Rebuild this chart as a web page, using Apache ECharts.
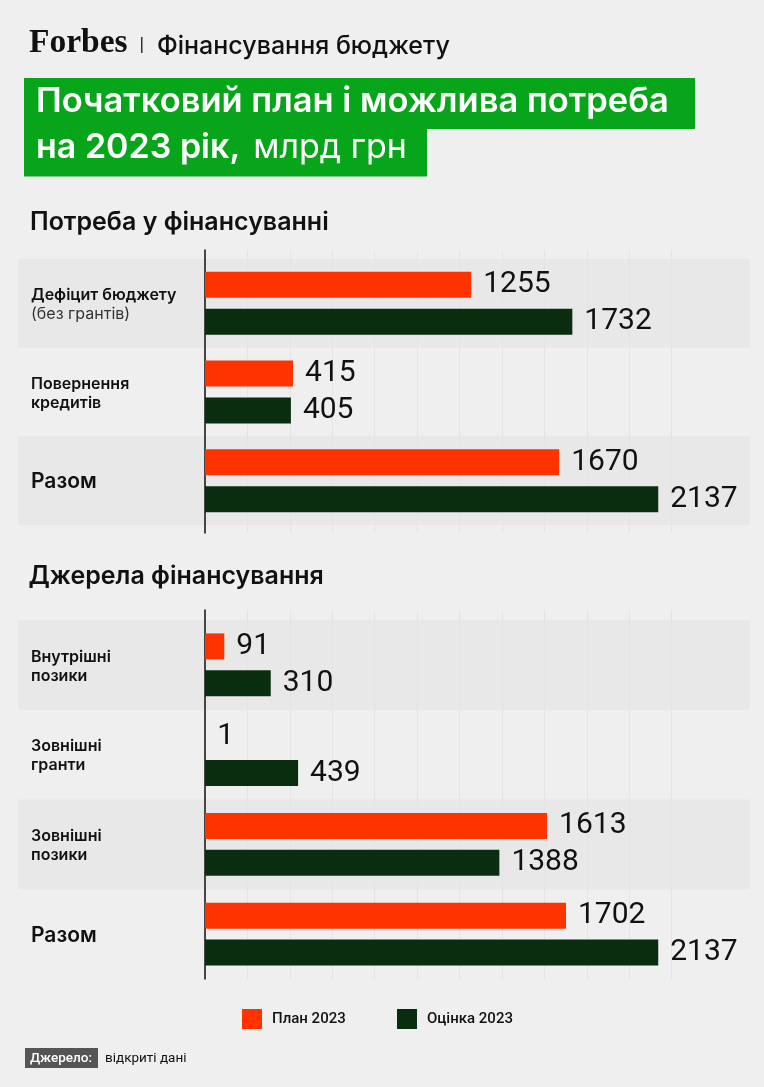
<!DOCTYPE html>
<html>
<head>
<meta charset="utf-8">
<script src="https://cdn.jsdelivr.net/npm/echarts@6/dist/echarts.min.js"></script>
<style>
html,body{margin:0;padding:0;background:#efefef;}
#chart{width:764px;height:1087px;}
</style>
</head>
<body>
<div id="chart"></div>
<script>
// ---- data ----
const needCategories = ['Дефіцит бюджету\n(без грантів)', 'Повернення\nкредитів', 'Разом'];
const needPlan = [1255, 415, 1670];
const needEstimate = [1732, 405, 2137];

const sourceCategories = ['Внутрішні\nпозики', 'Зовнішні\nгранти', 'Зовнішні\nпозики', 'Разом'];
const sourcePlan = [91, 1, 1613, 1702];
const sourceEstimate = [310, 439, 1388, 2137];

const seriesNames = ['План 2023', 'Оцінка 2023'];
const axisMax = 2200;
const axisStep = 200;

// ---- styles ----
const ORANGE = '#ff3300';
const GREEN = '#0a2d10';
const BAND = '#e8e8e8';
const FONT = 'Roboto';
const TFONT = 'Inter';

const chart = echarts.init(document.getElementById('chart'), null, {renderer: 'canvas'});

function catLabelFormatter(v) {
  if (v === 'Разом') return '{big|Разом}';
  return v.split('\n').map(function (l) {
    return l.indexOf('(') === 0 ? '{sub|' + l + '}' : '{main|' + l + '}';
  }).join('\n');
}

const catLabelRich = {
  main: {fontFamily: TFONT, fontWeight: 600, fontSize: 16, color: '#111', lineHeight: 19},
  sub: {fontFamily: TFONT, fontWeight: 400, fontSize: 16, color: '#333', lineHeight: 19},
  big: {fontFamily: TFONT, fontWeight: 600, fontSize: 21, color: '#111', lineHeight: 24}
};

const barLeft = 205, barRight = 92.4;
const panels = [
  {cats: needCategories, plan: needPlan, est: needEstimate, decoTop: 250, decoH: 283, top: 259, h: 266},
  {cats: sourceCategories, plan: sourcePlan, est: sourceEstimate, decoTop: 610, decoH: 369, top: 620, h: 359}
];

const grid = [], xAxis = [], yAxis = [], series = [];
panels.forEach(function (p, i) {
  const base = i * 3;
  // decoration grid: vertical split lines + axis line
  grid.push({left: barLeft, right: barRight, top: p.decoTop, height: p.decoH});
  xAxis.push({gridIndex: base, type: 'value', min: 0, max: axisMax, interval: axisStep, z: 3,
    axisLine: {show: false}, axisTick: {show: false}, axisLabel: {show: false},
    splitLine: {show: true, lineStyle: {color: '#e4e4e4', width: 1}}});
  yAxis.push({gridIndex: base, type: 'value', min: 0, max: 1, z: 4,
    axisLine: {show: true, lineStyle: {color: '#111', width: 1.5}},
    axisTick: {show: false}, axisLabel: {show: false}, splitLine: {show: false}});
  // band grid with category labels
  grid.push({left: 18, right: 14, top: p.top, height: p.h});
  xAxis.push({gridIndex: base + 1, type: 'value', min: 0, max: 1, show: false});
  yAxis.push({gridIndex: base + 1, type: 'category', data: p.cats, inverse: true, z: 1,
    axisLine: {show: false}, axisTick: {show: false},
    splitArea: {show: true, interval: 0, areaStyle: {color: [BAND, 'rgba(0,0,0,0)']}},
    axisLabel: {inside: true, margin: 13, align: 'left', padding: [3, 0, 0, 0],
      formatter: catLabelFormatter, rich: catLabelRich}});
  // bar grid
  grid.push({left: barLeft, right: barRight, top: p.top, height: p.h});
  xAxis.push({gridIndex: base + 2, type: 'value', min: 0, max: axisMax, show: false});
  yAxis.push({gridIndex: base + 2, type: 'category', data: p.cats, inverse: true, show: false});
  [p.plan, p.est].forEach(function (vals, k) {
    series.push({
      name: seriesNames[k], type: 'bar', xAxisIndex: base + 2, yAxisIndex: base + 2,
      data: vals, barWidth: 26, barGap: '42%', z: 5,
      itemStyle: {color: k === 0 ? ORANGE : GREEN},
      label: {show: true, position: 'right', distance: 12, fontFamily: FONT, fontSize: 30,
        fontWeight: 400, color: '#111'}
    });
  });
});

const legendText = {fontFamily: FONT, fontWeight: 500, fontSize: 15, color: '#111', padding: [0, 0, 0, 5]};

function txt(x, y, text, font, weight, size, color) {
  return {type: 'text', x: x, y: y, style: {text: text, fontFamily: font, fontWeight: weight,
    fontSize: size, fill: color, verticalAlign: 'middle', align: 'left'}};
}

chart.setOption({
  backgroundColor: '#efefef',
  animation: false,
  grid: grid, xAxis: xAxis, yAxis: yAxis, series: series,
  legend: [
    {data: [seriesNames[0]], left: 242, top: 1009, padding: 0, itemWidth: 20, itemHeight: 20, icon: 'rect', textStyle: legendText},
    {data: [seriesNames[1]], left: 397, top: 1009, padding: 0, itemWidth: 20, itemHeight: 20, icon: 'rect', textStyle: legendText}
  ],
  graphic: [
    txt(29, 43.5, 'Forbes', 'Liberation Serif', 'bold', 33.5, '#111'),
    {type: 'rect', shape: {x: 141, y: 37, width: 1.5, height: 16}, style: {fill: '#333'}},
    txt(157, 46, 'Фінансування бюджету', TFONT, 500, 25, '#111'),
    {type: 'rect', shape: {x: 24, y: 78, width: 671, height: 51}, style: {fill: '#06a51a'}},
    {type: 'rect', shape: {x: 24, y: 128.5, width: 403, height: 48}, style: {fill: '#06a51a'}},
    txt(36, 102, 'Початковий план і можлива потреба', TFONT, 600, 34.5, '#fff'),
    {type: 'text', x: 36, y: 148, style: {text: '{b|на 2023 рік,}{r|млрд грн}', verticalAlign: 'middle', align: 'left',
      rich: {
        b: {fontFamily: TFONT, fontWeight: 600, fontSize: 34, fill: '#fff'},
        r: {fontFamily: TFONT, fontWeight: 400, fontSize: 34, fill: '#fff', padding: [0, 0, 0, 13]}}}},
    txt(30, 222.5, 'Потреба у фінансуванні', TFONT, 600, 25, '#111'),
    txt(28.5, 576.5, 'Джерела фінансування', TFONT, 600, 25, '#111'),
    {type: 'rect', shape: {x: 25, y: 1048, width: 73, height: 20}, style: {fill: '#555'}},
    txt(30, 1058.5, 'Джерело:', FONT, 500, 13.5, '#fff'),
    txt(105, 1058.5, 'відкриті дані', FONT, 400, 13.5, '#111')
  ]
});
</script>
</body>
</html>
